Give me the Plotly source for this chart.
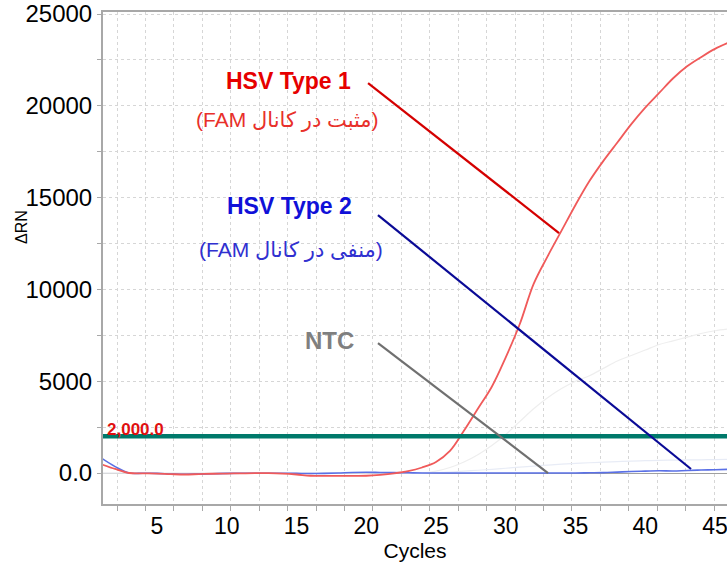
import plotly.graph_objects as go

# ---------------- data ----------------
cycles = list(range(1, 47))

hsv1_fam = [480, 220, 0, -20, -30, -60, -80, -60, -40, -30,
            -20, -10, -10, -30, -80, -150, -160, -160, -160, -150,
            -100, -20, 100, 300, 600, 1200, 2300, 3500, 4700, 6300,
            8100, 10300, 11800, 13200, 14600, 15900, 17000, 18000, 19000, 19900,
            20700, 21500, 22150, 22650, 23100, 23450]

hsv2_fam = [820, 350, 0, -10, -20, -50, -70, -60, -40, -20,
            -10, -10, -10, -10, -20, -30, -20, 0, 30, 40,
            30, 20, 10, 0, 0, 0, 0, 0, 0, 0,
            0, 0, 0, 0, 0, 10, 20, 50, 80, 100,
            120, 110, 140, 160, 180, 200]

faint_gray = [0, 0, 0, 0, 0, 0, 0, 0, 0, 0,
              0, 0, 0, 0, 0, 0, 0, 0, 0, 0,
              0, 0, 0, 0, 100, 300, 600, 1000, 1500, 2100,
              2800, 3500, 4100, 4600, 5000, 5300, 5700, 6100, 6400, 6700,
              7000, 7200, 7400, 7600, 7750, 7850]

faint_blue = [0, 0, 0, 0, 0, 0, 0, 0, 0, 0,
              0, 0, 0, 0, 0, 0, 0, 0, 0, 0,
              0, 0, 0, 0, 20, 50, 100, 150, 200, 260,
              320, 380, 430, 480, 520, 560, 590, 620, 650, 670,
              690, 700, 710, 720, 730, 740]

threshold = 2000
threshold_label = "2,000.0"

x_tickvals = [5, 10, 15, 20, 25, 30, 35, 40, 45]
y_tickvals = [0, 5000, 10000, 15000, 20000, 25000]
y_ticktext = ["0.0", "5000", "10000", "15000", "20000", "25000"]

# label texts and their leader lines (x0, y0, x1, y1) in cycles / ΔRn
labels = [
    dict(text="<b>HSV Type 1</b>", x=14.46, y=21350, color="#e60000", size=23),
    dict(text="\u202b(مثبت در کانال FAM)\u202c", x=14.39, y=19230, color="#e8302a", size=21),
    dict(text="<b>HSV Type 2</b>", x=14.53, y=14540, color="#1010d8", size=23),
    dict(text="\u202b(منفی در کانال FAM)\u202c", x=14.60, y=12150, color="#3030d0", size=21),
    dict(text="<b>NTC</b>", x=17.33, y=7240, color="#7f7f7f", size=24),
]
leaders = [
    ((20.13, 21240, 33.82, 13070), "#d40000"),
    ((20.84, 14050, 43.28, 218), "#0a0a96"),
    ((20.84, 7080, 33.03, 0), "#707070"),
]

FONT = "Liberation Sans, Arial, DejaVu Sans, sans-serif"

fig = go.Figure()
fig.add_trace(go.Scatter(x=cycles, y=faint_blue, mode="lines",
                         line=dict(color="#e8ecf6", width=1.2, shape="spline"),
                         showlegend=False, hoverinfo="skip"))
fig.add_trace(go.Scatter(x=cycles, y=faint_gray, mode="lines",
                         line=dict(color="#eeeeee", width=1.2, shape="spline"),
                         showlegend=False, hoverinfo="skip"))
fig.add_trace(go.Scatter(x=cycles, y=hsv2_fam, mode="lines", name="HSV Type 2",
                         line=dict(color="#5a70e6", width=1.6, shape="spline"),
                         showlegend=False))
fig.add_trace(go.Scatter(x=cycles, y=hsv1_fam, mode="lines", name="HSV Type 1",
                         line=dict(color="#f05a5a", width=1.8, shape="spline"),
                         showlegend=False))

# threshold line
fig.add_shape(type="line", xref="paper", x0=0, x1=1, yref="y", y0=threshold, y1=threshold,
              line=dict(color="#00796b", width=4.5), layer="above")
fig.add_annotation(text="<b>" + threshold_label + "</b>", xref="paper", x=0.003, yref="y",
                   y=threshold, xanchor="left", yanchor="bottom", yshift=-5, showarrow=False,
                   font=dict(family=FONT, size=17, color="#e01010"))

for (x0, y0, x1, y1), col in leaders:
    fig.add_shape(type="line", x0=x0, y0=y0, x1=x1, y1=y1,
                  line=dict(color=col, width=2.2), layer="above")

for lab in labels:
    fig.add_annotation(text=lab["text"], x=lab["x"], y=lab["y"], showarrow=False,
                       xanchor="center", yanchor="middle",
                       font=dict(family=FONT, size=lab["size"], color=lab["color"]))

# y-axis title
fig.add_annotation(text="ΔRN", xref="paper", yref="paper", x=-0.1314, y=0.563,
                   textangle=-90, showarrow=False, xanchor="center", yanchor="middle",
                   font=dict(family=FONT, size=16, color="#000000"))

grid_col = "#d6d6d6"
fig.update_layout(
    width=727, height=568,
    margin=dict(l=103, r=0, t=12, b=64, autoexpand=False),
    plot_bgcolor="white", paper_bgcolor="white",
    font=dict(family=FONT, color="#000000"),
    xaxis=dict(
        range=[1.129, 45.86], automargin=False,
        tickvals=x_tickvals, ticks="", showgrid=False,
        tickfont=dict(size=23), ticklabeloverflow="allow",
        showline=True, linecolor="#a8a8a8", linewidth=2, mirror=True,
        zeroline=False,
        title=dict(text="Cycles", font=dict(size=21), standoff=0),
        minor=dict(tick0=2.133, dtick=2.038, ticks="outside", ticklen=5,
                   tickcolor="#a8a8a8", showgrid=True, gridcolor=grid_col,
                   griddash="dot", gridwidth=1),
    ),
    yaxis=dict(
        range=[-1688, 25109], automargin=False,
        tickvals=y_tickvals, ticktext=y_ticktext,
        ticks="outside", ticklen=4, tickcolor="#a8a8a8",
        tickfont=dict(size=24), ticklabeloverflow="allow",
        showgrid=True, gridcolor=grid_col, griddash="dot", gridwidth=1,
        showline=True, linecolor="#a8a8a8", linewidth=2, mirror=False,
        zeroline=True, zerolinecolor="#a0a0a0", zerolinewidth=1.2,
        minor=dict(dtick=2500, tick0=0, ticks="outside", ticklen=4,
                   tickcolor="#a8a8a8", showgrid=True, gridcolor=grid_col,
                   griddash="dot", gridwidth=1),
    ),
)

fig.write_html("out.html", config={"displayModeBar": False},
               post_script="document.body.style.margin='0';document.body.style.overflow='hidden';")
